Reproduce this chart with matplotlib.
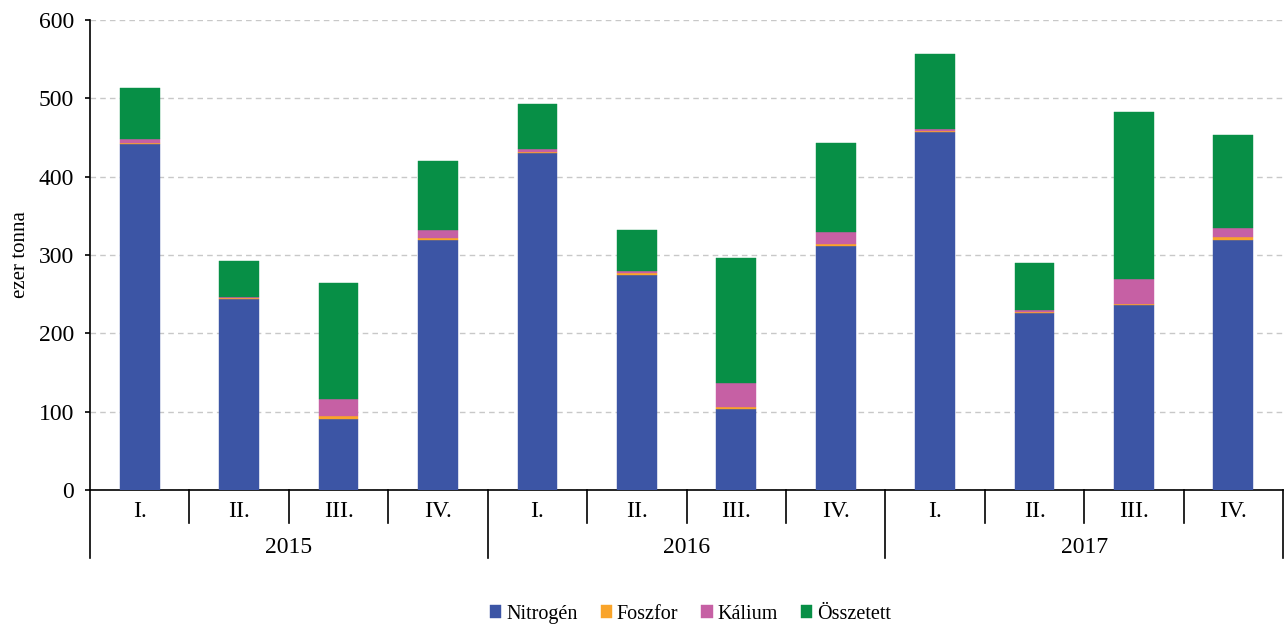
import numpy as np
import matplotlib.pyplot as plt

# adatok (ezer tonna), negyedévek 2015-2017
negyedevek = ['I.', 'II.', 'III.', 'IV.'] * 3
evek = ['2015', '2016', '2017']
nitrogen = [442, 244, 91, 319, 430, 274, 103, 311, 457, 226, 236, 319]
foszfor = [1, 1, 3, 3, 2, 3, 3, 3, 1, 1, 1, 4]
kalium = [5, 2, 22, 10, 3, 3, 30, 16, 3, 3, 32, 12]
osszetett = [65, 45, 148, 88, 58, 52, 160, 113, 96, 60, 214, 118]

szinek = ['#3C55A5', '#F9A42A', '#C660A4', '#078F46']
nevek = ['Nitrogén', 'Foszfor', 'Kálium', 'Összetett']

plt.rcParams['font.family'] = ['Liberation Serif', 'DejaVu Serif']

fig = plt.figure(figsize=(12.86, 6.28), dpi=100)
ax = fig.add_axes([0.07, 0.2197, 0.9277, 0.7484])

x = np.arange(len(negyedevek))
alap = np.zeros(len(x))
for adat, szin, nev in zip([nitrogen, foszfor, kalium, osszetett], szinek, nevek):
    ax.bar(x, adat, 0.4, bottom=alap, color=szin, label=nev,
           edgecolor=szin, linewidth=0.3, zorder=3)
    alap = alap + np.array(adat)

ax.set_xlim(-0.5, len(x) - 0.5)
ax.set_ylim(0, 600)
ax.set_yticks(np.arange(0, 601, 100))
ax.tick_params(axis='y', labelsize=17, length=3.5, width=1.2, direction='out', pad=8)
ax.yaxis.grid(True, linestyle=(0, (4, 3)), color='#C8C8C8', linewidth=1, zorder=0)
ax.set_xticks([])
ax.spines['top'].set_visible(False)
ax.spines['right'].set_visible(False)
ax.spines['left'].set_linewidth(1.2)
ax.spines['bottom'].set_linewidth(1.2)
ax.set_ylabel('ezer tonna', fontsize=15, labelpad=6)

# kategória tengely két szinten
tr = ax.get_xaxis_transform()
for i in range(len(x) + 1):
    hossz = -0.145 if i % 4 == 0 else -0.070
    ax.plot([i - 0.5, i - 0.5], [0, hossz], color='black', lw=1.2,
            transform=tr, clip_on=False)
for i, q in enumerate(negyedevek):
    ax.text(i, -0.045, q, transform=tr, ha='center', va='center', fontsize=17)
for j, ev in enumerate(evek):
    ax.text(4 * j + 1.5, -0.123, ev, transform=tr, ha='center', va='center', fontsize=17)

fig.legend(loc='center', bbox_to_anchor=(0.537, 0.022), ncol=4, frameon=False,
           fontsize=14.5, handlelength=0.55, handleheight=0.55, handletextpad=0.25,
           columnspacing=1.15)

fig.savefig('out.png', dpi=100)
